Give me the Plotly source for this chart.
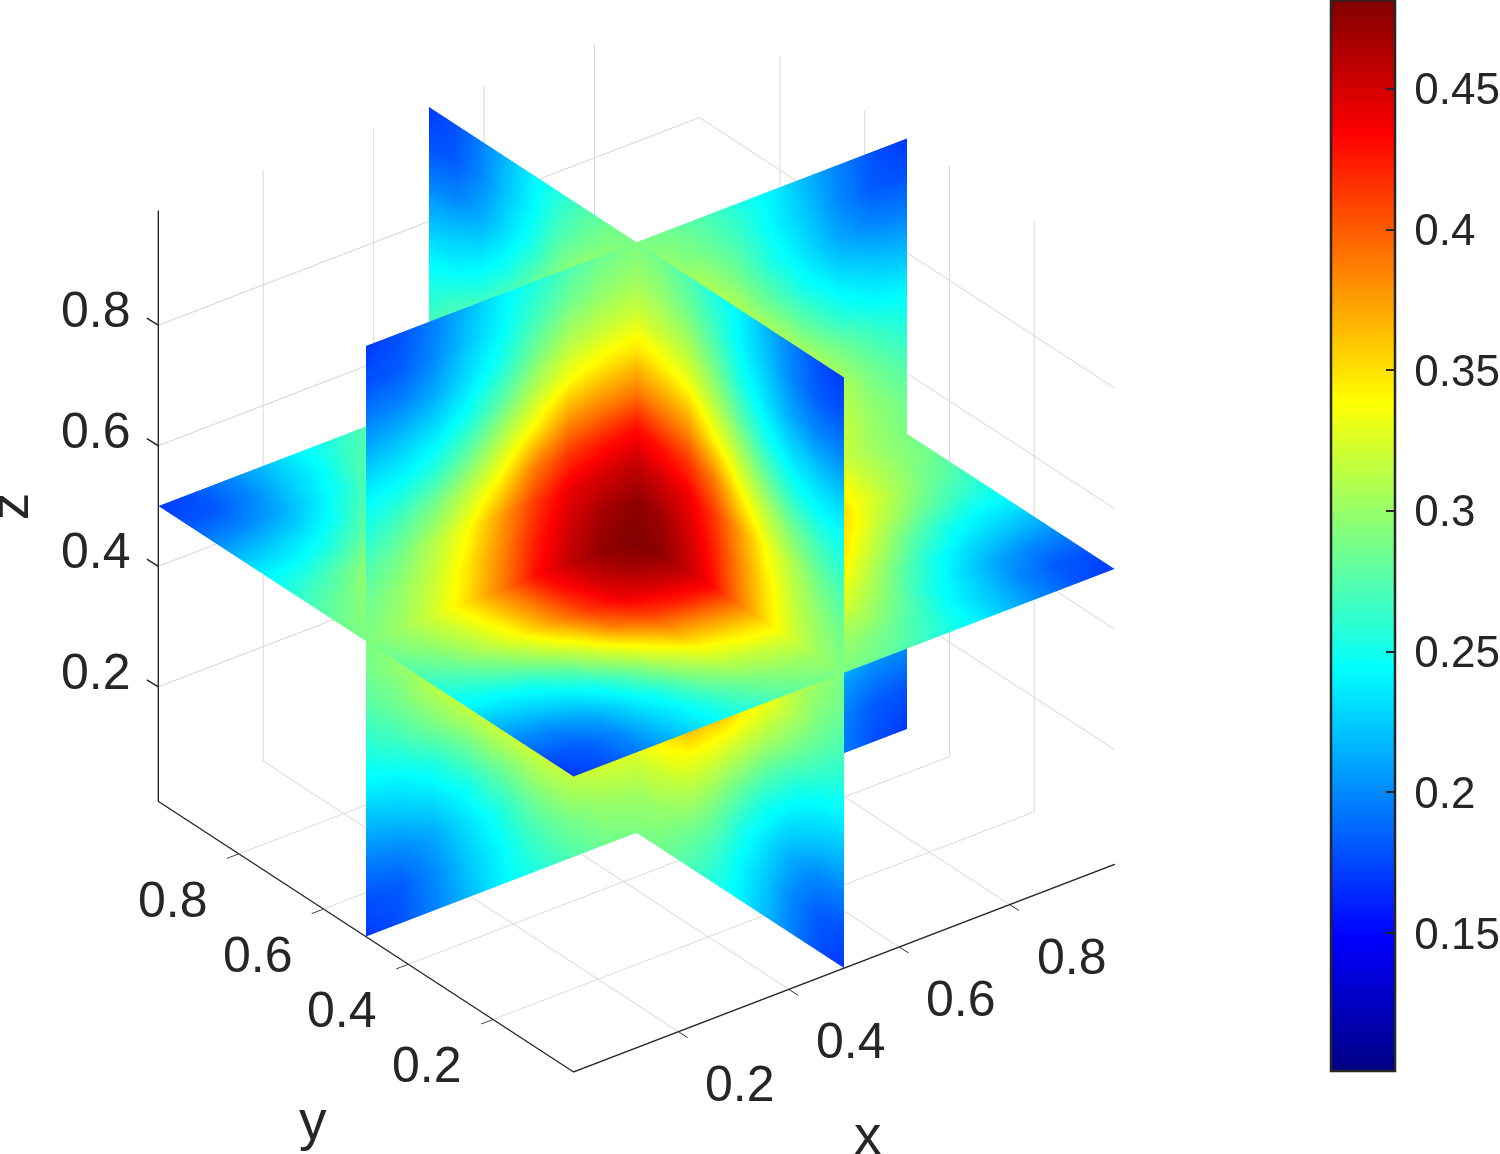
import numpy as np
import plotly.graph_objects as go

# Slice values for one quadrant of a plane, from the cube centre (top left) to a corner (bottom right)
quadrant_values = [
    [0.481, 0.475, 0.455, 0.428, 0.386, 0.350, 0.322, 0.302, 0.290],
    [0.475, 0.468, 0.450, 0.422, 0.382, 0.346, 0.318, 0.298, 0.285],
    [0.455, 0.450, 0.440, 0.412, 0.374, 0.336, 0.310, 0.287, 0.272],
    [0.428, 0.422, 0.412, 0.385, 0.342, 0.312, 0.287, 0.268, 0.255],
    [0.386, 0.382, 0.374, 0.342, 0.312, 0.280, 0.255, 0.243, 0.240],
    [0.350, 0.346, 0.336, 0.312, 0.280, 0.250, 0.233, 0.224, 0.218],
    [0.322, 0.318, 0.310, 0.287, 0.255, 0.233, 0.212, 0.200, 0.197],
    [0.302, 0.298, 0.287, 0.268, 0.243, 0.224, 0.200, 0.183, 0.179],
    [0.290, 0.285, 0.272, 0.255, 0.240, 0.218, 0.197, 0.179, 0.170],
]
half_coords = [0.5, 0.56125, 0.6225, 0.68375, 0.745, 0.80625, 0.8675, 0.92875, 0.99]
slice_position = 0.5
axis_range = [0.01, 0.99]
tick_values = [0.2, 0.4, 0.6, 0.8]
colorbar_ticks = [0.15, 0.2, 0.25, 0.3, 0.35, 0.4, 0.45]
value_range = [0.101, 0.4816]

# Jet colour map
jet = [
    [0.0, "rgb(0,0,131)"],
    [0.125, "rgb(0,0,255)"],
    [0.375, "rgb(0,255,255)"],
    [0.625, "rgb(255,255,0)"],
    [0.875, "rgb(255,0,0)"],
    [1.0, "rgb(128,0,0)"],
]

INK = "#262626"
TICK_FONT = dict(family="Liberation Sans, Arial", size=50, color=INK)
TITLE_FONT = dict(family="Liberation Sans, Arial", size=55, color=INK)

# Build the whole plane by mirroring the quadrant about both centre lines
q = np.array(quadrant_values)
top = np.hstack([q[:, :0:-1], q])
values = np.vstack([top[:0:-1], top])
half = np.array(half_coords)
coords = np.concatenate([1 - half[:0:-1], half])
A, B = np.meshgrid(coords, coords)
C = np.full_like(A, slice_position)

flat_light = dict(ambient=1, diffuse=0, specular=0, roughness=1, fresnel=0)


def plane(x, y, z):
    return go.Surface(
        x=x, y=y, z=z, surfacecolor=values, coloraxis="coloraxis",
        lighting=flat_light, showscale=False, hoverinfo="skip",
    )


fig = go.Figure([plane(C, A, B), plane(A, C, B), plane(A, B, C)])

lo, hi = axis_range


def axis(ticks="outside"):
    return dict(
        range=axis_range, tickvals=tick_values, showticklabels=False,
        showbackground=False, showspikes=False, zeroline=False,
        showgrid=True, gridcolor="#d4d4d4", gridwidth=2,
        showline=True, linecolor=INK, linewidth=3,
        ticks=ticks, ticklen=15, tickcolor=INK, tickwidth=2,
        title=dict(text=""),
    )


def label(text, x, y, z, dx, dy, font=TICK_FONT, angle=0):
    return dict(
        text=str(text), x=x, y=y, z=z, showarrow=False, xshift=dx, yshift=-dy,
        xanchor="center", yanchor="middle", font=font, textangle=angle,
    )


def z_tick(t):
    # Short stroke leaning along the y direction, away from the box
    return dict(
        text="\u00a0", x=lo, y=hi, z=t, showarrow=True, arrowhead=0, arrowwidth=1.5,
        arrowcolor=INK, standoff=0, startstandoff=0, ax=-13, ay=-8,
        font=dict(size=1, color=INK),
    )


notes = []
for t in tick_values:
    notes.append(label(t, t, lo, lo, 62, 52))
    notes.append(label(t, lo, t, lo, -66, 46))
    notes.append(label(t, lo, hi, t, -62, -15))
    notes.append(z_tick(t))
notes.append(label("x", 0.5, lo, lo, 24, 167, TITLE_FONT))
notes.append(label("y", lo, 0.5, lo, -53, 183, TITLE_FONT))
notes.append(label("z", lo, hi, 0.5, -149, 0, TITLE_FONT, angle=-90))

# Default 3-D view: azimuth -37.5 degrees, elevation 30 degrees
eye = np.array([-0.5272, -0.6871, 0.5]) * 1.6
box_scale = 1.269

fig.update_layout(
    width=1500, height=1154, autosize=False,
    margin=dict(l=0, r=0, t=0, b=0, autoexpand=False),
    paper_bgcolor="white",
    showlegend=False,
    coloraxis=dict(
        cmin=value_range[0], cmax=value_range[1], colorscale=jet,
        colorbar=dict(
            x=1331 / 1500, xanchor="left", xpad=0,
            y=1, yanchor="top", ypad=0,
            lenmode="pixels", len=1071, thicknessmode="pixels", thickness=64,
            tickvals=colorbar_ticks,
            ticktext=["\u2009" + str(v) for v in colorbar_ticks],
            ticks="inside", ticklen=10, tickwidth=2, tickcolor=INK,
            outlinecolor=INK, outlinewidth=2.5,
            tickfont=dict(family="Liberation Sans, Arial", size=44, color=INK),
        ),
    ),
    scene=dict(
        domain=dict(x=[0, 1273 / 1500], y=[1 - 1075 / 1154, 1]),
        aspectmode="manual", aspectratio=dict(x=box_scale, y=box_scale, z=box_scale),
        camera=dict(
            projection=dict(type="orthographic"),
            eye=dict(x=eye[0], y=eye[1], z=eye[2]),
            center=dict(x=0, y=0, z=0), up=dict(x=0, y=0, z=1),
        ),
        xaxis=axis(), yaxis=axis(), zaxis=axis(ticks=""),
        annotations=notes,
    ),
)

fig.write_html("out.html")
